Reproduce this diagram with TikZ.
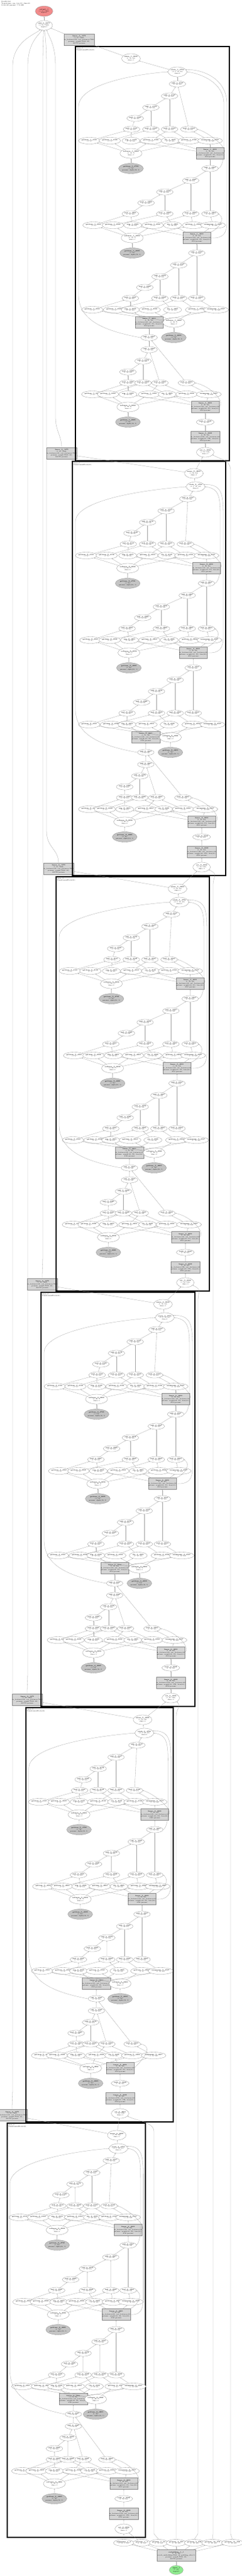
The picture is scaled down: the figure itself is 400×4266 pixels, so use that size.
\documentclass[tikz,border=0pt]{standalone}
\usetikzlibrary{shapes.geometric,arrows.meta}
\definecolor{edgec}{HTML}{A2A2A2}
\definecolor{nodeb}{HTML}{8C8C8C}
\definecolor{boxf}{HTML}{D4D4D4}
\definecolor{boxb}{HTML}{8A8A8A}
\definecolor{getf}{HTML}{C4C4C4}
\definecolor{outf}{HTML}{F28B8B}
\definecolor{inf}{HTML}{8FEB8F}
\newcommand\lab[2]{\textbf{#1}\\#2}
\newcommand\rnm[1]{\ifcase#1\or getitem\or getitem\or neg\or getitem\or sin\or getitem\or unsqueeze\fi}
\newcommand\rsh[1]{\ifcase#1\or (1, 4)\or (1, 4)\or (1, 16, 64)\or (1, 4)\or (1, 16, 64)\or (1, 4)\or (1, 16, 64)\fi}
\tikzset{
 every node/.style={font=\fontsize{2.3}{2.8}\selectfont,align=center,inner sep=0pt},
 sm/.style={ellipse,draw=nodeb,line width=0.3pt,fill=white,minimum width=27pt,minimum height=10pt},
 rw/.style={ellipse,draw=nodeb,line width=0.3pt,fill=white,minimum width=30pt,minimum height=11pt},
 tri/.style={ellipse,draw=nodeb,line width=0.3pt,fill=white,minimum width=31pt,minimum height=16pt},
 gi/.style={ellipse,draw=nodeb,line width=0.3pt,fill=getf,minimum width=33pt,minimum height=17pt},
 lin/.style={rectangle,draw=boxb,line width=0.3pt,fill=boxf,minimum width=39pt,minimum height=19pt},
 conn/.style={draw=edgec,line width=0.3pt,-{Stealth[length=1.7pt,width=1.3pt]}},
 clus/.style={draw=black,line width=1.3pt},
}
% group: #1 cluster, #2 group, #3 y0, #4 Tx, #5 a1x, #6 a2x, #7 m1x, #8 M xs, #9 R xs
\newcommand\grp[9]{%
 \node[sm] (c#1g#2T) at (#4,#3) {\lab{add\_#1\_4#2{}57}{(1, 16, 64)}};
 \node[sm] (c#1g#2a1) at (#5,{#3+20}) {\lab{add\_#1\_4#2{}67}{(1, 16, 64)}};
 \node[sm] (c#1g#2a2) at (#6,{#3+39}) {\lab{add\_#1\_4#2{}78}{(1, 16, 64)}};
 \node[sm] (c#1g#2m1) at (#7,{#3+57}) {\lab{mul\_#1\_4#2{}85}{(1, 16, 64)}};
 \foreach \xx [count=\i] in {#8} {\node[sm] (c#1g#2M\i) at (\xx,{#3+75}) {\lab{mul\_#1\_4#2{}9\i}{(1, 16, 64)}};}
 \foreach \xx [count=\i] in {#9} {\node[rw] (c#1g#2R\i) at (\xx,{#3+94}) {\lab{\rnm{\i}\_#1\_4#2{}0\i}{\rsh{\i}}};}
 \draw[conn] (c#1g#2a1) -- (c#1g#2T);
 \draw[conn] (c#1g#2a2) -- (c#1g#2a1);
 \draw[conn] (c#1g#2m1) -- (c#1g#2a2);
 \draw[conn] (c#1g#2M1) -- (c#1g#2m1);
 \draw[conn] (c#1g#2M2) -- (c#1g#2a2);
 \draw[conn] (c#1g#2M3) -- (c#1g#2a1);
 \draw[conn] (c#1g#2M4) -- (c#1g#2T);
 \foreach \a/\b in {1/1,3/1,2/2,5/2,4/3,6/3,7/4} {\draw[conn] (c#1g#2R\a) -- (c#1g#2M\b);}
}
\newcommand\linlab[1]{\lab{linear\_#1\_4801}{(1, 16, 64)\\in\_features=64, out\_features=64\\params: weight(64, 64), bias(64,)\\4160 params}}
\newcommand\clusterblock[4]{%
\begin{scope}[shift={(#2,#3)},xscale=#4]
 \draw[clus] (0,0) rectangle (255,686);
 \node[anchor=north west,align=left] (c#1lab) at (1.5,1.5) {layer\_#1\\TransformerBlock(64)};
 \node[tri] (c#1mean) at (\meanx,20) {\lab{mean\_#1\_4842}{(1, 16, 64)\\dim=-1}};
 \node[tri] (c#1stack) at (\stackx,42) {\lab{stack\_#1\_4759}{(4, 1, 16, 64)\\dim=0}};
 \grp{#1}{1}{62}{\azx}{156}{125}{99}{93,125,156,188}{23,57,92,125,157,188,223}
 \grp{#1}{2}{202}{223}{191}{148}{117}{91,148,191,223}{30,62,95,128,161,195,228}
 \grp{#1}{3}{342}{201}{171}{140}{115}{91,140,171,201}{28,64,91,123,161,200,233}
 \grp{#1}{4}{482}{122}{122}{112}{87}{87,112,140,184}{28,54,87,122,152,184,221}
 \node[tri] (c#1g1S) at (92,177) {\lab{softmax\_#1\_4806}{(1, 16, 7)\\dim=-1}};
 \node[lin] (c#1g1L) at (223,177) {\linlab{#1}};
 \node[gi] (c#1g1G) at (92,202) {\lab{getitem\_#1\_4793}{(1, 16)\\params: alpha(16, 1)}};
 \node[tri] (c#1g2S) at (94,317) {\lab{softmax\_#1\_4836}{(1, 16, 7)\\dim=-1}};
 \node[lin] (c#1g2L) at (201,317) {\linlab{#1}};
 \node[gi] (c#1g2G) at (94,342) {\lab{getitem\_#1\_4823}{(1, 16)\\params: alpha(16, 1)}};
 \node[lin] (c#1g3L) at (122,457) {\linlab{#1}};
 \node[tri] (c#1g3S) at (163,457) {\lab{softmax\_#1\_4866}{(1, 16, 7)\\dim=-1}};
 \node[gi] (c#1g3G) at (163,482) {\lab{getitem\_#1\_4853}{(1, 16)\\params: alpha(16, 1)}};
 \node[tri] (c#1g4S) at (\Sfx,597) {\lab{softmax\_#1\_4896}{(1, 16, 7)\\dim=-1}};
 \node[lin] (c#1g4L) at (\Lfx,597) {\linlab{#1}};
 \node[gi] (c#1g4G) at (\Sfx,622) {\lab{getitem\_#1\_4883}{(1, 16)\\params: alpha(16, 1)}};
 \node[sm] (c#1g4Sig) at (\Lfx,622) {\lab{tanh\_#1\_4902}{(1, 16, 64)}};
 \node[lin] (c#1g4Lb) at (\Lfx,647) {\lab{linear\_#1\_4903}{(1, 16, 64)\\in\_features=128, out\_features=64\\params: weight(64, 128), bias(64,)\\8256 params}};
 \node[tri,minimum width=29pt] (c#1cat) at (\Lfx,672) {\lab{cat\_#1\_4904}{(1, 16, 128)\\dim=-1}};
 \draw[conn] (c#1stack) -- (c#1mean);
 \draw[conn] (c#1g1T) -- (c#1stack);
 \foreach \g in {1,2,3,4} {\draw[conn] (c#1g\g G) -- (c#1g\g S);
  \foreach \r in {1,2,4,6} {\draw[conn] (c#1g\g S) -- (c#1g\g R\r);}
  \foreach \r in {3,5,7} {\draw[conn] (c#1g\g L) -- (c#1g\g R\r);}}
 \foreach \g/\h in {1/2,2/3,3/4} {\draw[conn] (c#1g\h T) -- (c#1g\g L);}
 \draw[conn] (c#1g4Sig) -- (c#1g4L);
 \draw[conn] (c#1g4Lb) -- (c#1g4Sig);
 \draw[conn] (c#1cat) -- (c#1g4Lb);
 \draw[conn] (c#1g1L.east) .. controls +(8,-8) and +(20,6) .. (c#1g1M4.east);
 \draw[conn] (c#1g2L.north east) .. controls +(14,-6) and +(12,8) .. (c#1g2M4.east);
 \draw[conn] (c#1g4L.east) .. controls +(10,-10) and +(25,5) .. (c#1g4M4.east);
 \draw[conn] (c#1g4T.west) .. controls (40,470) and (5,450) .. (5,410) -- (5,100) .. controls (5,60) and ({\stackx-60},45) .. (c#1stack.west);
 \draw[conn] (c#1g2T.east) .. controls (242,200) and (246,190) .. (246,170) -- (246,95) .. controls (246,60) and ({\stackx+40},45) .. (c#1stack.east);
 \draw[conn] (c#1g2L.east) .. controls (245,318) and (251,310) .. (251,290) -- (251,95) .. controls (251,55) and ({\stackx+45},38) .. (c#1stack.15);
\end{scope}}
\begin{document}
\begin{tikzpicture}[x=1pt,y=-1pt]
\fill[white] (0,0) rectangle (400,4266);
\useasboundingbox (0,0) rectangle (400,4266);
\node[anchor=north west,align=left] (title) at (2,2) {LLaMA(64)\\Transformer, seq\_len=16, dim=64\\2,034,432 params, 7.76 MB};
\node[ellipse,draw=nodeb,line width=0.3pt,fill=outf,minimum width=29pt,minimum height=17pt] (out) at (73,18.5) {\lab{output\_1}{(1, 16, 7684)\\depth:0}};
\node[tri,minimum width=28pt] (top) at (73,42) {\lab{add\_0\_5877}{(1, 16, 7684)\\depth:1}};
\newcommand\blab{\lab{linear\_0\_1073}{(1, 16, 7684)\\in\_features=64, out\_features=7684\\params: weight(7684, 64)\\491776 params}}
\node[lin,minimum width=40pt] (B0) at (131,66) {\blab};
\node[lin,minimum width=40pt] (B1) at (102,751) {\blab};
\node[lin,minimum width=40pt] (B2) at (97,1439) {\blab};
\node[lin,minimum width=40pt] (B3) at (70,2127) {\blab};
\node[lin,minimum width=40pt] (B4) at (45,2815) {\blab};
\node[lin,minimum width=40pt] (B5) at (20,3503) {\blab};
\def\meanx{92}\def\stackx{169}\def\azx{169}\def\Sfx{87}\def\Lfx{215}
\clusterblock{1}{125}{77}{1}
\def\meanx{202}\def\stackx{205}\def\azx{192}
\clusterblock{2}{120}{764}{0.996}
\clusterblock{3}{93}{1452}{0.996}
\clusterblock{4}{68}{2140}{1}
\def\Sfx{112}\def\Lfx{163}
\clusterblock{5}{43}{2828}{0.957}
\def\Sfx{87}\def\Lfx{215}
\clusterblock{6}{12}{3516}{0.898}
% bottom
\foreach \xx/\nm/\sh [count=\i] in {205/unsqueeze\_1\_2/{(1, 16, 1, 64)},235/getitem\_1\_3/{(1, 16, 64)},263/getitem\_7\_93/{(1, 16, 64)},292/getitem\_4\_387/{(1, 16, 64)},322/getitem\_5\_248/{(1, 16, 64)},352/getitem\_10\_378/{(1, 16, 64)},385/getitem\_11\_398/{(1, 16, 64)}}
 {\node[rw,minimum width=28pt] (n\i) at (\xx,4211) {\lab{\nm}{\sh}};}
\node[lin,minimum width=64pt] (emb) at (292,4232) {\lab{embedding\_1\_1}{(1, 16, 64)\\vocab\_embedding(7684, 64, padding\_idx=1)\\params: weight(7684, 64)\\491776 params}};
\node[ellipse,draw=nodeb,line width=0.3pt,fill=inf,minimum width=23pt,minimum height=15pt] (inp) at (292,4256) {\lab{input\_1}{(1, 16)\\depth:0}};
\draw[conn] (inp) -- (emb);
\foreach \i in {1,...,7} {\draw[conn] (emb) -- (n\i);}
\draw[conn] (n1) -- (c6cat);
\draw[conn] (n2) -- (c6cat);
\draw[conn] (n3.north) -- (255,4196) -- (255,3530) .. controls +(0,-16) and +(16,8) .. (c5cat.-20);
\draw[conn] (n4.north) -- (292,2842) .. controls +(0,-14) and +(8,10) .. (c4cat.-30);
\draw[conn] (n5.north) -- (328,4196) -- (328,2154) .. controls +(0,-16) and +(16,8) .. (c3cat.-20);
\draw[conn] (n6.north) -- (353,4196) -- (353,1466) .. controls +(0,-16) and +(16,8) .. (c2cat.-20);
\draw[conn] (n7.north) -- (382,4196) -- (382,779) .. controls +(0,-16) and +(16,8) .. (c1cat.-20);
% between clusters
\foreach \k/\j in {1/2,2/3,3/4,4/5,5/6} {\draw[conn] (c\j mean) -- (c\k cat); \draw[conn] (c\j mean) -- (B\k);}
\draw[conn] (c1mean) -- (B0);
\draw[conn] (B0) -- (top);
\draw[conn] (top) -- (out);
% long left lines
\draw[conn] (B1.north) .. controls (102,720) and (92,715) .. (92,690) -- (92,110) .. controls (92,72) and (80,60) .. (top.-60);
\draw[conn] (B2.north) .. controls (97,1405) and (77,1405) .. (77,1375) -- (77,110) .. controls (77,75) and (75,60) .. (top.-85);
\draw[conn] (B3.north) .. controls (70,2100) and (71,2095) .. (71,2075) -- (71,110) .. controls (71,75) and (72,60) .. (top.-95);
\draw[conn] (B4.north) .. controls (45,2790) and (46,2785) .. (46,2765) -- (46,110) .. controls (46,72) and (62,60) .. (top.-112);
\draw[conn] (B5.north) .. controls (20,3478) and (21,3473) .. (21,3455) -- (21,110) .. controls (21,70) and (55,58) .. (top.-130);
\end{tikzpicture}
\end{document}
